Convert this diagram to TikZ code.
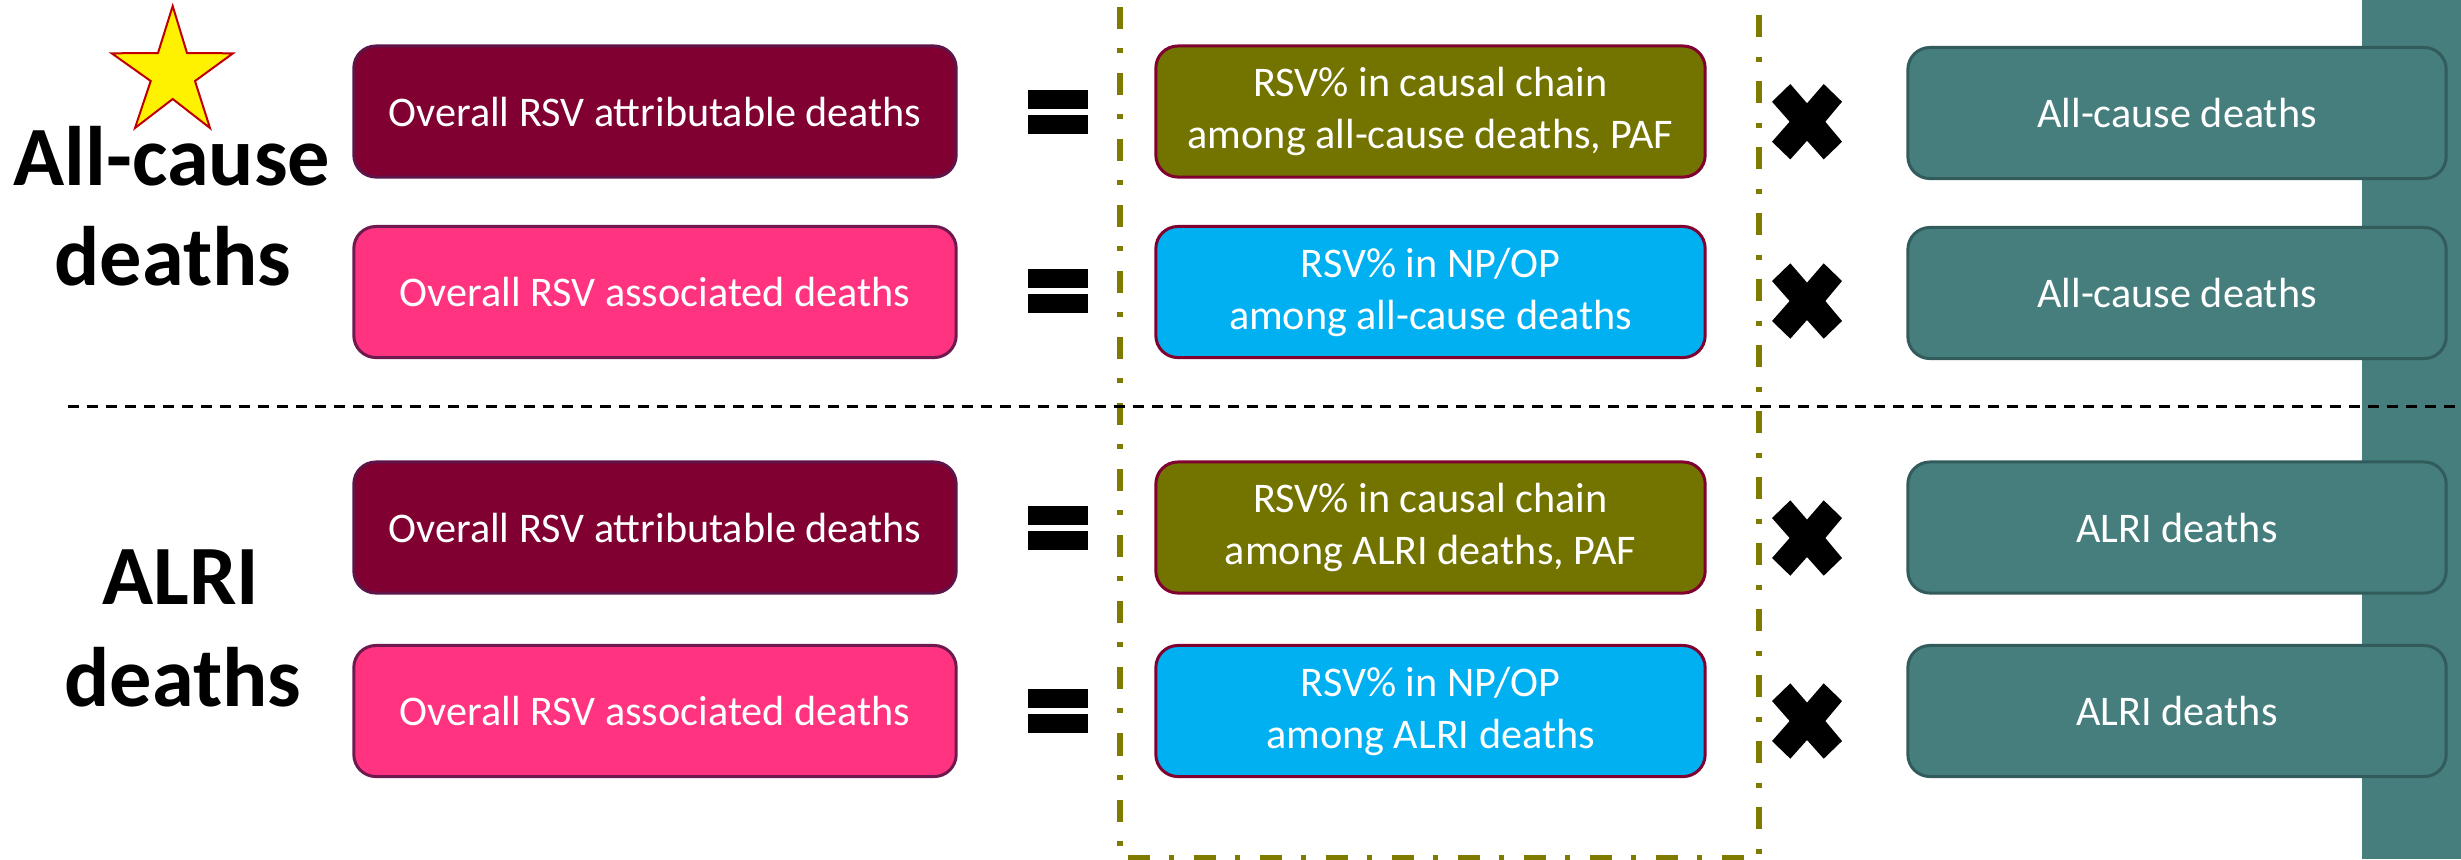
\documentclass[tikz,border=0pt]{standalone}
\usepackage{fontspec}
\setmainfont{Carlito}
\definecolor{attrfill}{HTML}{800032}
\definecolor{attrdraw}{HTML}{5E1448}
\definecolor{assocfill}{HTML}{FF3380}
\definecolor{assocdraw}{HTML}{6E1A4E}
\definecolor{olivefill}{HTML}{737300}
\definecolor{boxdraw}{HTML}{800030}
\definecolor{cyanfill}{HTML}{00B0F0}
\definecolor{tealfill}{HTML}{467D7D}
\definecolor{tealdraw}{HTML}{325C5C}
\definecolor{dashol}{HTML}{7F7A00}
\definecolor{starred}{HTML}{C00000}
\begin{document}
\begin{tikzpicture}[x=0.01cm,y=-0.01cm,
  box/.style={rounded corners=0.22cm, minimum height=1.31cm, line width=0.03cm,
    text=white, font=\fontsize{12}{14.8}\selectfont, align=center, inner sep=0pt},
  attrbox/.style={box, fill=attrfill, draw=attrdraw, minimum width=6.02cm},
  assocbox/.style={box, fill=assocfill, draw=assocdraw, minimum width=6.02cm},
  pafbox/.style={box, fill=olivefill, draw=boxdraw, minimum width=5.49cm},
  npbox/.style={box, fill=cyanfill, draw=boxdraw, minimum width=5.49cm},
  totbox/.style={box, fill=tealfill, draw=tealdraw, minimum width=5.38cm},
  biglabel/.style={font=\fontsize{24}{28}\selectfont\bfseries, anchor=base, inner sep=0pt},
  dashdot/.style={draw=dashol, line width=0.055cm,
    dash pattern=on 0.22cm off 0.19cm on 0.05cm off 0.20cm},
  sepline/.style={draw=black, line width=0.03cm, dash pattern=on 0.11cm off 0.08cm}
]
\clip (0,0) rectangle (2461,859);
\fill[white] (0,0) rectangle (2461,859);
% right teal bar
\fill[tealfill] (2362,0) rectangle (2461,859);
% dash-dot frame
\coordinate (fA) at (1120,-59);
\coordinate (fB) at (1120,858);
\coordinate (fC) at (1759,858);
\coordinate (fD) at (1759,-59);
\draw[dashdot] (fA) -- (fB) -- (fC) -- (fD);
% separator
\coordinate (sL) at (68,406);
\coordinate (sR) at (2461,406);
\draw[sepline] (sL) -- (sR);
% star
\filldraw[fill=yellow, draw=starred, line width=0.02cm]
  (172.7,6) -- (187,53) -- (233,53.3) -- (195,81) -- (210,128) -- (172.7,99)
  -- (135,128) -- (150.7,81) -- (111.7,53.3) -- (158,53) -- cycle;
% left labels
\node[biglabel] (lab1a) at (172,185) {All-cause};
\node[biglabel] (lab1b) at (173,285) {deaths};
\node[biglabel] (lab2a) at (181,604) {ALRI};
\node[biglabel] (lab2b) at (183,706) {deaths};
% boxes
\node[attrbox] (a1) at (655,111.5) {Overall RSV attributable deaths};
\node[assocbox] (b1) at (655,292) {Overall RSV associated deaths};
\node[attrbox] (a2) at (655,527.5) {Overall RSV attributable deaths};
\node[assocbox] (b2) at (655,711) {Overall RSV associated deaths};
\node[pafbox] (p1) at (1430.5,111.5) {RSV\% in causal chain\\among all-cause deaths, PAF};
\node[npbox] (n1) at (1430.5,292) {RSV\% in NP/OP\\among all-cause deaths};
\node[pafbox] (p2) at (1430.5,527.5) {RSV\% in causal chain\\among ALRI deaths, PAF};
\node[npbox] (n2) at (1430.5,711) {RSV\% in NP/OP\\among ALRI deaths};
\node[totbox] (t1) at (2177,113) {All-cause deaths};
\node[totbox] (t2) at (2177,293) {All-cause deaths};
\node[totbox] (t3) at (2177,527.5) {ALRI deaths};
\node[totbox] (t4) at (2177,711) {ALRI deaths};
% equals signs
\foreach \yy in {111.5,291,527.5,711} {
  \fill[black] (1028,\yy-22) rectangle (1088,\yy-3);
  \fill[black] (1028,\yy+3) rectangle (1088,\yy+22);
}
% multiplication signs
\foreach \yy in {121.7,301,538,721} {
  \fill[black, shift={(1807,\yy)}]
    (-35,-20) -- (-16.7,-37.7) -- (0,-18.4) -- (16.7,-37.7) -- (35,-20) -- (18.3,0)
    -- (35,20) -- (16.7,37.7) -- (0,19) -- (-16.7,37.7) -- (-35,20) -- (-17.4,0) -- cycle;
}
\end{tikzpicture}
\end{document}
